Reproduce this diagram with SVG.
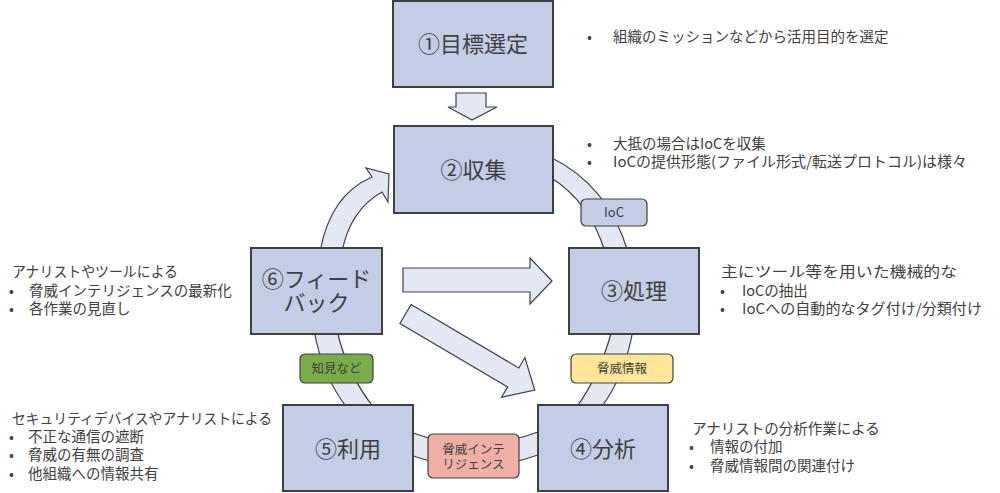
<svg xmlns="http://www.w3.org/2000/svg" width="1000" height="493" viewBox="0 0 1000 493">
<style>
text{font-family:"Noto Sans CJK JP","Noto Sans",sans-serif;fill:#404040}
.box{fill:#c3cde6;stroke:#404040;stroke-width:2}
.t{font-size:22px;text-anchor:middle}
.band{fill:#e3e8f4;stroke:#404040;stroke-width:1.2;stroke-linejoin:miter}
.lbl{stroke:#404040;stroke-width:1.2}
.lt{font-size:12.5px;text-anchor:middle}
.n{font-size:14.5px}
</style>
<rect width="1000" height="493" fill="#ffffff"/>
<g id="connectors">
<path class="band" d="M550,157 Q608,185 628,252 L605,252 Q590,202 550,177 Z"/>
<path class="band" d="M633,330 Q625,375 601,408 L576,408 Q600,375 612,330 Z"/>
<path class="band" d="M410,432 Q475,456 541,431 L541,454 Q475,478 410,455 Z"/>
<path class="band" d="M314,330 Q322,375 347,408 L374,408 Q346,372 337,330 Z"/>
<path class="band" d="M320,252 Q330,195 372,177 L366,168 L389,174 L388,202 L382,192 Q350,210 342,252 Z"/>
<polygon class="band" points="456,93 486,93 486,107 497,107 472,120 448,107 456,107"/>
<polygon class="band" points="403,268 530,268 530,258 552,281 530,304 530,292 403,292"/>
<polygon class="band" transform="translate(405.5,314) rotate(30.5)" points="0,-11 125,-11 125,-23 150,0 125,23 125,11 0,11"/>
</g>
<g id="node1"><rect class="box" x="393" y="1" width="160" height="86"/><text class="t" x="473" y="52">①目標選定</text></g>
<g id="node2"><rect class="box" x="394" y="126" width="159" height="87"/><text class="t" x="473.5" y="178">②収集</text></g>
<g id="node3"><rect class="box" x="569" y="248" width="130" height="86"/><text class="t" x="634" y="299">③処理</text></g>
<g id="node4"><rect class="box" x="538" y="405" width="130" height="86"/><text class="t" x="603" y="457">④分析</text></g>
<g id="node5"><rect class="box" x="283" y="405" width="130" height="86"/><text class="t" x="348" y="457">⑤利用</text></g>
<g id="node6"><rect class="box" x="251" y="248" width="131" height="86"/><text class="t"><tspan x="316.5" y="287">⑥フィード</tspan><tspan x="316.5" y="311">バック</tspan></text></g>
<g id="labels">
<g id="lbl-ioc"><rect class="lbl" x="581" y="199" width="66" height="27" rx="5" fill="#c3cde6"/><text class="lt" x="614" y="217" style="font-size:13px">IoC</text></g>
<g id="lbl-info"><rect class="lbl" x="571" y="354" width="102" height="29" rx="5" fill="#ffe699"/><text class="lt" x="622" y="373">脅威情報</text></g>
<g id="lbl-know"><rect class="lbl" x="300" y="354" width="73" height="29" rx="5" fill="#78ad4a"/><text class="lt" x="336.5" y="373">知見など</text></g>
<g id="lbl-ti"><rect class="lbl" x="428" y="434" width="91" height="44" rx="5" fill="#efb0a3"/><text class="lt"><tspan x="473.5" y="453.5">脅威インテ</tspan><tspan x="473.5" y="468.5">リジェンス</tspan></text></g>
</g>
<g id="notes">
<text class="n"><tspan x="587" y="42">•</tspan><tspan x="613" y="42">組織のミッションなどから活用目的を選定</tspan></text>
<text class="n"><tspan x="587" y="149">•</tspan><tspan x="613" y="149">大抵の場合はIoCを収集</tspan><tspan x="587" y="167">•</tspan><tspan x="613" y="167" textLength="354" lengthAdjust="spacingAndGlyphs">IoCの提供形態(ファイル形式/転送プロトコル)は様々</tspan></text>
<text class="n"><tspan x="721" y="277" textLength="236" lengthAdjust="spacingAndGlyphs">主にツール等を用いた機械的な</tspan><tspan x="720" y="295.5">•</tspan><tspan x="742" y="295.5">IoCの抽出</tspan><tspan x="720" y="314">•</tspan><tspan x="742" y="314" textLength="240" lengthAdjust="spacingAndGlyphs">IoCへの自動的なタグ付け/分類付け</tspan></text>
<text class="n"><tspan x="692" y="433.5">アナリストの分析作業による</tspan><tspan x="689" y="452">•</tspan><tspan x="710" y="452">情報の付加</tspan><tspan x="689" y="470.5">•</tspan><tspan x="710" y="470.5">脅威情報間の関連付け</tspan></text>
<text class="n"><tspan x="12" y="277" textLength="166" lengthAdjust="spacingAndGlyphs">アナリストやツールによる</tspan><tspan x="9" y="295.5">•</tspan><tspan x="29" y="295.5">脅威インテリジェンスの最新化</tspan><tspan x="9" y="314">•</tspan><tspan x="29" y="314">各作業の見直し</tspan></text>
<text class="n"><tspan x="12" y="423.5" textLength="260" lengthAdjust="spacingAndGlyphs">セキュリティデバイスやアナリストによる</tspan><tspan x="9" y="442">•</tspan><tspan x="28" y="442">不正な通信の遮断</tspan><tspan x="9" y="460">•</tspan><tspan x="28" y="460">脅威の有無の調査</tspan><tspan x="9" y="478.5">•</tspan><tspan x="28" y="478.5">他組織への情報共有</tspan></text>
</g>
</svg>
